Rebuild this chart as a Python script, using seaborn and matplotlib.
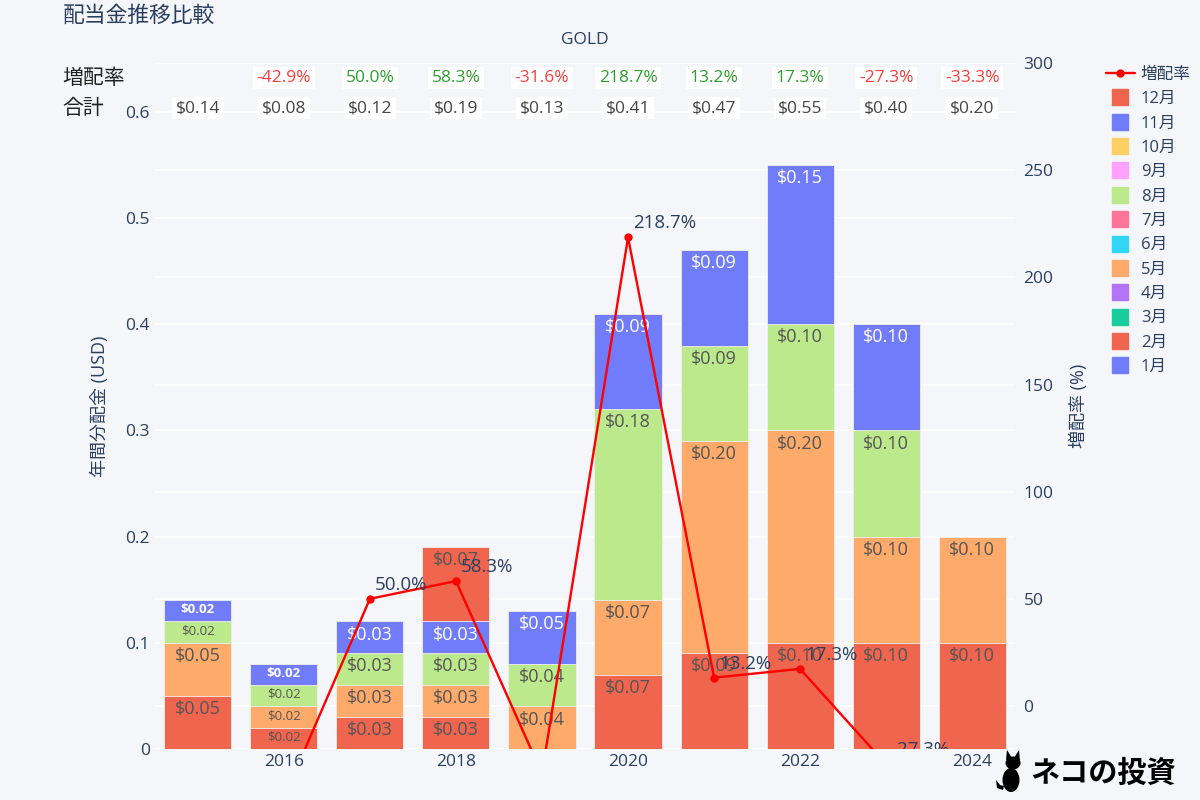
import numpy as np
import pandas as pd
import seaborn as sns
import matplotlib.pyplot as plt
from matplotlib.lines import Line2D
from matplotlib.patches import Ellipse, Polygon
from matplotlib import transforms

# data
years = [2015, 2016, 2017, 2018, 2019, 2020, 2021, 2022, 2023, 2024]
feb = [0.05, 0.02, 0.03, 0.03, 0.00, 0.07, 0.09, 0.10, 0.10, 0.10]
may = [0.05, 0.02, 0.03, 0.03, 0.04, 0.07, 0.20, 0.20, 0.10, 0.10]
aug = [0.02, 0.02, 0.03, 0.03, 0.04, 0.18, 0.09, 0.10, 0.10, 0.00]
nov = [0.02, 0.02, 0.03, 0.03, 0.05, 0.09, 0.09, 0.15, 0.10, 0.00]
dec = [0.00, 0.00, 0.00, 0.07, 0.00, 0.00, 0.00, 0.00, 0.00, 0.00]
growth = [np.nan, -42.9, 50.0, 58.3, -31.6, 218.7, 13.2, 17.3, -27.3, -33.3]

month_names = ['1月', '2月', '3月', '4月', '5月', '6月', '7月', '8月', '9月', '10月', '11月', '12月']
month_colors = ['#717CFA', '#EF654E', '#19CC9C', '#B374FA', '#FEAA6A', '#30D6F4',
                '#FF7499', '#BCE98C', '#FFA2FF', '#FED063', '#717CFA', '#EF654E']

bg = '#F5F6FA'
txt = '#2a3f5f'

sns.set_theme(style='white')
plt.rcParams['font.family'] = ['Open Sans', 'Noto Sans CJK JP', 'DejaVu Sans']

df = pd.DataFrame({'year': [str(y) for y in years], 'feb': feb, 'may': may,
                   'aug': aug, 'nov': nov, 'dec': dec})
segs = [('feb', 1), ('may', 4), ('aug', 7), ('nov', 10), ('dec', 11)]
cum = df[[s for s, _ in segs]].cumsum(axis=1)
df['total'] = cum['dec']

fig = plt.figure(figsize=(12, 8), dpi=100, facecolor=bg)
ax = fig.add_axes([0.129, 0.064, 0.717, 0.857], facecolor=bg)

# stacked bars: draw cumulative heights from the top segment down
for name, ci in reversed(segs):
    sns.barplot(x=df['year'], y=cum[name], color=month_colors[ci], saturation=1,
                width=0.78, edgecolor='#F0F0F0', linewidth=0.6, ax=ax, zorder=2)

ymax = 0.646
r_lo, r_hi = -20, 300
ax.set_ylim(0, ymax)
ax.set_xlim(-0.5, len(years) - 0.5)
ax.set_yticks([0, 0.1, 0.2, 0.3, 0.4, 0.5, 0.6])
ax.set_yticklabels(['0', '0.1', '0.2', '0.3', '0.4', '0.5', '0.6'])
ax.set_xticks([1, 3, 5, 7, 9])
ax.set_xticklabels(['2016', '2018', '2020', '2022', '2024'])
ax.grid(axis='y', color='white', lw=1.2, zorder=0)
ax.set_axisbelow(True)
# right-axis gridlines, kept under the bars
for g in range(0, 301, 50):
    ax.axhline(ymax * (g - r_lo) / (r_hi - r_lo), color='white', lw=1.2, zorder=0)
ax.set_xlabel('')
ax.set_ylabel('年間分配金 (USD)', color=txt, fontsize=13, labelpad=12)
ax.tick_params(axis='both', length=0, labelcolor=txt, labelsize=12.5)
for s in ax.spines.values():
    s.set_visible(False)

# labels inside each segment
for name, ci in segs:
    for i in range(len(years)):
        v = df[name][i]
        if v <= 0:
            continue
        top = cum[name][i]
        small = v < 0.025
        col = 'white' if ci in (0, 10) else '#555555'
        ax.annotate(f'${v:.2f}', (i, top), xytext=(0, -2 if small else -3),
                    textcoords='offset points', ha='center', va='top',
                    fontsize=9.5 if small else 13, color=col,
                    fontweight='bold' if (small and col == 'white') else 'normal',
                    zorder=5)

# growth rate line
ax2 = ax.twinx()
sns.lineplot(x=np.arange(len(years)), y=growth, ax=ax2, color='red', lw=1.7,
             marker='o', markersize=6, markeredgewidth=0, zorder=6)
ax2.set_ylim(r_lo, r_hi)
ax2.set_yticks(range(0, 301, 50))
ax2.tick_params(axis='y', length=0, labelcolor=txt, labelsize=12.5, pad=6)
ax2.set_ylabel('増配率 (%)', color=txt, fontsize=13, rotation=90, labelpad=12)
ax2.yaxis.set_label_position('right')
for s in ax2.spines.values():
    s.set_visible(False)
off = transforms.offset_copy(ax2.transData, fig=fig, x=5, y=5, units='dots')
for i, g in enumerate(growth):
    if np.isnan(g):
        continue
    ax2.text(i, g, f'{g:.1f}%', transform=off, ha='left', va='bottom',
             fontsize=13.5, color=txt, clip_on=True, zorder=7)

# rows above the plot
blend = transforms.blended_transform_factory(ax.transData, fig.transFigure)
fig.text(0.052, 0.9025, '増配率', fontsize=15, color='#222222', va='center')
fig.text(0.052, 0.865, '合計', fontsize=15, color='#222222', va='center')
for i in range(len(years)):
    g = growth[i]
    if not np.isnan(g):
        ax.text(i, 0.9025, f'{g:.1f}%', transform=blend, ha='center', va='center',
                fontsize=12.5, color='#FF3B3B' if g < 0 else '#2CA02C', clip_on=False,
                bbox=dict(boxstyle='square,pad=0.2', fc='white', ec='none'))
    ax.text(i, 0.865, f'${df["total"][i]:.2f}', transform=blend, ha='center',
            va='center', fontsize=12.5, color='#444444', clip_on=False,
            bbox=dict(boxstyle='square,pad=0.2', fc='white', ec='none'))

fig.text(0.052, 0.979, '配当金推移比較', fontsize=15.7, color=txt, va='center')
fig.text(0.4875, 0.95, 'GOLD', fontsize=12.5, color=txt, ha='center', va='center')

# legend
handles = [Line2D([], [], color='red', lw=1.7, marker='o', markersize=6, markeredgewidth=0)]
labels = ['増配率']
for k in range(11, -1, -1):
    handles.append(Line2D([], [], ls='none', marker='s', markersize=11,
                          color=month_colors[k]))
    labels.append(month_names[k])
fig.legend(handles, labels, loc='upper left', bbox_to_anchor=(0.909, 0.935),
           frameon=False, fontsize=12, labelcolor=txt, handlelength=1.75,
           handletextpad=0.35, labelspacing=0.5)

# watermark: little cat + text
def fp(x, y):
    return (x / 1200, 1 - y / 800)

cat = [Ellipse(fp(1011, 780), 17 / 1200, 24 / 800),
       Ellipse(fp(1013, 763), 15 / 1200, 13 / 800),
       Polygon([fp(1006, 760), fp(1007, 750), fp(1012, 758)]),
       Polygon([fp(1014, 758), fp(1019, 750), fp(1020, 761)]),
       Polygon([fp(1003, 790), fp(997, 788), fp(996, 780), fp(1000, 785), fp(1004, 786)])]
for p in cat:
    p.set_transform(fig.transFigure)
    p.set_facecolor('black')
    p.set_edgecolor('none')
    fig.patches.append(p)
fig.text(0.9195, 0.034, 'ネコの投資', fontsize=21, fontweight='bold',
         color='black', ha='center', va='center', family=['Noto Sans CJK JP'])

fig.savefig('out.png', dpi=100, facecolor=bg)
